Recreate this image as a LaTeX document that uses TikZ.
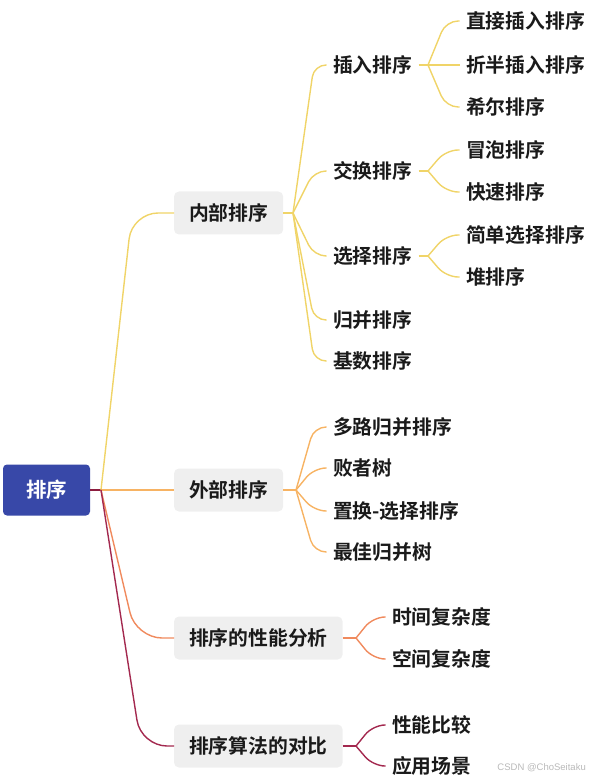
\documentclass[tikz,border=0pt]{standalone}
\usepackage{fontspec}
\setmainfont{Liberation Sans}
\newfontfamily\cjk{Noto Sans CJK SC}[BoldFont={Noto Sans CJK SC Bold}]
\usetikzlibrary{calc}
\definecolor{rootblue}{HTML}{3848A8}
\definecolor{boxgray}{HTML}{EFEFEF}
\definecolor{txt}{HTML}{1A1A1A}
\definecolor{cyel}{HTML}{F0D468}
\definecolor{corg}{HTML}{F7B363}
\definecolor{cora}{HTML}{F08A5D}
\definecolor{cred}{HTML}{A3294F}
\definecolor{croot}{HTML}{8C1D3F}
\tikzset{
  rootbox/.style={fill=rootblue, rounded corners=4pt, text=white, font=\cjk\bfseries\fontsize{20.5}{22}\selectfont, minimum width=87pt, minimum height=51pt, inner sep=0pt},
  mainbox/.style={fill=boxgray, rounded corners=5pt, text=txt, font=\cjk\bfseries\fontsize{19.8}{21}\selectfont, minimum height=43pt, inner xsep=15pt, inner ysep=0pt, outer sep=0pt},
  leaf/.style={text=txt, font=\cjk\bfseries\fontsize{19.8}{21}\selectfont, inner sep=0pt, outer xsep=6.5pt, anchor=west, xshift=-6.5pt},
  lnk/.style={line width=1.4pt, rounded corners=12pt},
  mlnk/.style={line width=1.4pt, rounded corners=26pt},
}
\begin{document}
\begin{tikzpicture}[x=1pt,y=-1pt]
\useasboundingbox (0,0) rectangle (589,783);
% root
\node[rootbox] (root) at (46.5,490) {排序};
% main boxes
\node[mainbox, anchor=west] (inner) at (174,213) {内部排序};
\node[mainbox, anchor=west] (outer) at (174,490) {外部排序};
\node[mainbox, anchor=west] (perf) at (174,638) {排序的性能分析};
\node[mainbox, anchor=west] (comp) at (174,746) {排序算法的对比};
% second level (inner)
\node[leaf] (ins) at (333,65) {插入排序};
\node[leaf] (swp) at (333,171) {交换排序};
\node[leaf] (sel) at (333,256) {选择排序};
\node[leaf] (mrg) at (333,320) {归并排序};
\node[leaf] (rdx) at (333,361) {基数排序};
% third level
\node[leaf] (ins1) at (466,21) {直接插入排序};
\node[leaf] (ins2) at (466,65) {折半插入排序};
\node[leaf] (ins3) at (466,107) {希尔排序};
\node[leaf] (swp1) at (466,150) {冒泡排序};
\node[leaf] (swp2) at (466,192) {快速排序};
\node[leaf] (sel1) at (466,235) {简单选择排序};
\node[leaf] (sel2) at (466,277) {堆排序};
% outer
\node[leaf] (out1) at (333,427) {多路归并排序};
\node[leaf] (out2) at (333,468) {败者树};
\node[leaf] (out3) at (333,511) {置换-选择排序};
\node[leaf] (out4) at (333,552) {最佳归并树};
% perf
\node[leaf] (perf1) at (392,617) {时间复杂度};
\node[leaf] (perf2) at (392,659) {空间复杂度};
% comp
\node[leaf] (comp1) at (392,725) {性能比较};
\node[leaf] (comp2) at (392,766) {应用场景};
% watermark
\node[anchor=east, text=gray!55, font=\fontsize{9.5}{11}\selectfont, inner sep=0pt] (wm) at (586,768) {CSDN @ChoSeitaku};

% root connectors
\coordinate (rb) at (101,490);
\draw[croot, line width=1.4pt] (root.east) -- (rb);
\draw[mlnk, cyel] (rb) -- (132,213) -- (inner.west);
\draw[mlnk, corg] (rb) -- (outer.west);
\draw[mlnk, cora] (rb) -- (136,638) -- (perf.west);
\draw[mlnk, cred] (rb) -- (141,746) -- (comp.west);

% inner children
\coordinate (ib) at (293,213);
\coordinate (ibk) at (314,213);
\draw[lnk, cyel] (inner.east) -- (ib);
\foreach \n in {ins,swp,sel,mrg,rdx} \draw[lnk, cyel] (ib) -- (ibk |- \n.west) -- (\n.west);

% insertion children
\coordinate (ab) at (428,65);
\coordinate (abk) at (446,65);
\draw[lnk, cyel] (ins.east) -- (ab);
\foreach \n in {ins1,ins2,ins3} \draw[lnk, cyel] (ab) -- (abk |- \n.west) -- (\n.west);
% swap children
\coordinate (sb) at (428,171);
\coordinate (sbk) at (446,171);
\draw[lnk, cyel] (swp.east) -- (sb);
\foreach \n in {swp1,swp2} \draw[lnk, cyel] (sb) -- (sbk |- \n.west) -- (\n.west);
% select children
\coordinate (eb) at (428,256);
\coordinate (ebk) at (446,256);
\draw[lnk, cyel] (sel.east) -- (eb);
\foreach \n in {sel1,sel2} \draw[lnk, cyel] (eb) -- (ebk |- \n.west) -- (\n.west);

% outer children
\coordinate (ob) at (296,490);
\coordinate (obk) at (314,490);
\draw[lnk, corg] (outer.east) -- (ob);
\foreach \n in {out1,out2,out3,out4} \draw[lnk, corg] (ob) -- (obk |- \n.west) -- (\n.west);

% perf children
\coordinate (pb) at (356,638);
\coordinate (pbk) at (373,638);
\draw[lnk, cora] (perf.east) -- (pb);
\foreach \n in {perf1,perf2} \draw[lnk, cora] (pb) -- (pbk |- \n.west) -- (\n.west);

% comp children
\coordinate (cb) at (356,746);
\coordinate (cbk) at (373,746);
\draw[lnk, cred] (comp.east) -- (cb);
\foreach \n in {comp1,comp2} \draw[lnk, cred] (cb) -- (cbk |- \n.west) -- (\n.west);
\end{tikzpicture}
\end{document}
